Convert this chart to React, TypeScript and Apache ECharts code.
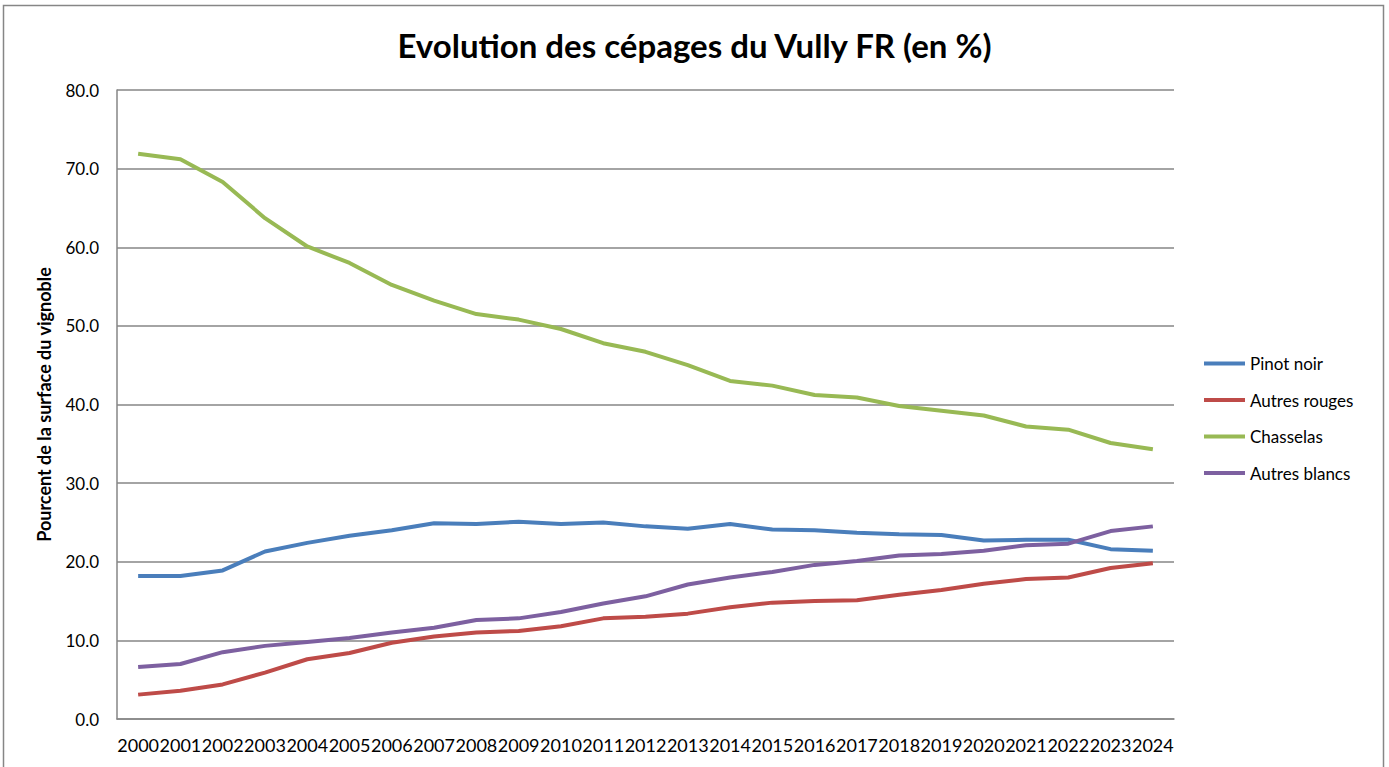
import React, { useEffect, useRef } from "react";
import * as echarts from "echarts";

const years = ["2000","2001","2002","2003","2004","2005","2006","2007","2008","2009","2010","2011","2012","2013","2014","2015","2016","2017","2018","2019","2020","2021","2022","2023","2024"];
const pinotNoir = [18.2,18.2,18.9,21.3,22.4,23.3,24.0,24.9,24.8,25.1,24.8,25.0,24.5,24.2,24.8,24.1,24.0,23.7,23.5,23.4,22.7,22.8,22.8,21.6,21.4];
const autresRouges = [3.1,3.6,4.4,5.9,7.6,8.4,9.7,10.5,11.0,11.2,11.8,12.8,13.0,13.4,14.2,14.8,15.0,15.1,15.8,16.4,17.2,17.8,18.0,19.2,19.8];
const chasselas = [71.9,71.2,68.3,63.7,60.1,58.0,55.2,53.2,51.5,50.8,49.6,47.8,46.7,45.0,43.0,42.4,41.2,40.9,39.8,39.2,38.6,37.2,36.8,35.1,34.3];
const autresBlancs = [6.6,7.0,8.5,9.3,9.8,10.3,11.0,11.6,12.6,12.8,13.6,14.7,15.6,17.1,18.0,18.7,19.6,20.1,20.8,21.0,21.4,22.1,22.3,23.9,24.5];
const seriesNames = ["Pinot noir","Autres rouges","Chasselas","Autres blancs"];
const colors = ["#4A7EBB","#BE4B48","#98B954","#7D60A0"];

export default function App() {
  const ref = useRef<HTMLDivElement>(null);
  useEffect(() => {
    if (!ref.current) return;
    const chart = echarts.init(ref.current, null, { renderer: "svg" });
    const font = "Lato, 'Open Sans', sans-serif";
    const data = [pinotNoir, autresRouges, chasselas, autresBlancs];
    chart.setOption({
      animation: false,
      backgroundColor: "#ffffff",
      textStyle: { fontFamily: font },
      title: {
        text: "Evolution des cépages du Vully FR (en %)",
        left: "center",
        top: 23,
        textStyle: { fontFamily: font, fontSize: 33, fontWeight: "bold", color: "#000" },
      },
      graphic: [
        {
          type: "rect",
          shape: { x: 3.5, y: 5.5, width: 1380, height: 800 },
          style: { fill: "none", stroke: "#868686", lineWidth: 1.5 },
          silent: true,
        },
      ],
      legend: {
        orient: "vertical",
        left: 1199,
        top: 350,
        icon: "rect",
        itemWidth: 41,
        itemHeight: 4,
        itemGap: 19.5,
        itemStyle: { borderWidth: 0 },
        data: seriesNames,
        textStyle: { fontFamily: font, fontSize: 17, color: "#000", lineHeight: 17 },
      },
      grid: { left: 117, right: 215, top: 90, bottom: 48, containLabel: false },
      xAxis: {
        type: "category",
        data: years,
        boundaryGap: true,
        axisLine: { lineStyle: { color: "#868686", width: 1.5 } },
        axisTick: { show: false },
        axisLabel: { interval: 0, fontSize: 18, color: "#000", margin: 17, fontFamily: font },
      },
      yAxis: {
        type: "value",
        min: 0,
        max: 80,
        interval: 10,
        name: "Pourcent de la surface du vignoble",
        nameLocation: "middle",
        nameGap: 64,
        nameRotate: 90,
        nameTextStyle: { fontFamily: font, fontSize: 18, fontWeight: "bold", color: "#000" },
        axisLine: { show: true, lineStyle: { color: "#868686", width: 1.5 } },
        axisTick: { show: false },
        splitLine: { lineStyle: { color: "#868686", width: 1.5 } },
        axisLabel: {
          fontSize: 17,
          color: "#000",
          margin: 18,
          fontFamily: font,
          formatter: (v: number) => v.toFixed(1),
        },
      },
      series: seriesNames.map((n, i) => ({
        name: n,
        type: "line",
        data: data[i],
        symbol: "none",
        lineStyle: { color: colors[i], width: 4 },
        itemStyle: { color: colors[i] },
      })),
    });
    return () => chart.dispose();
  }, []);
  return (
    <div
      ref={ref}
      style={{ position: "fixed", left: 0, top: 0, width: 1389, height: 767 }}
    />
  );
}
